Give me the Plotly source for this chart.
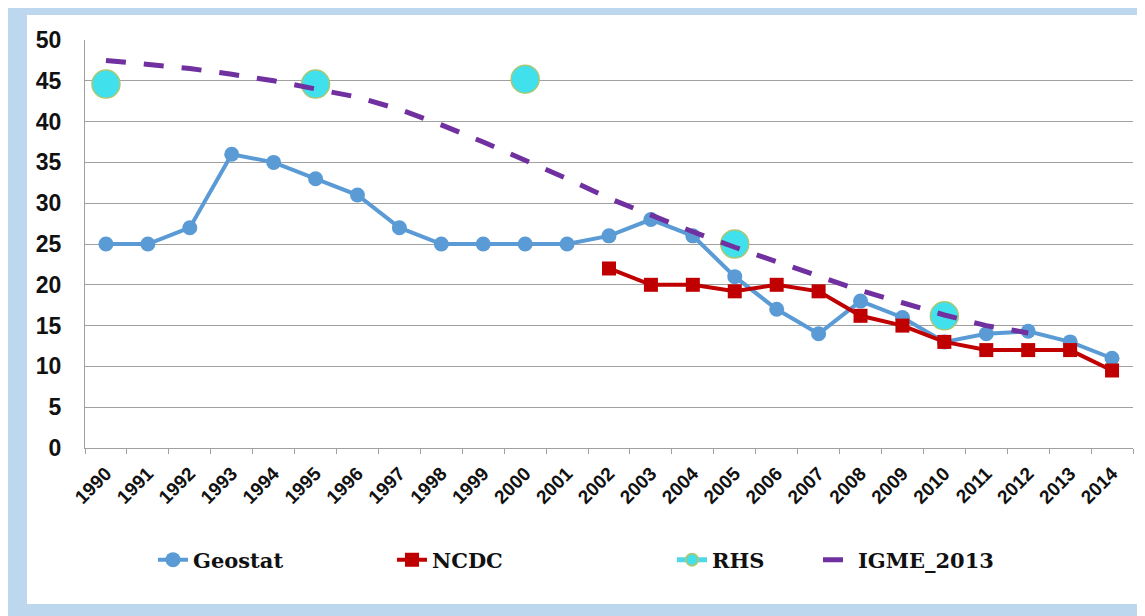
import plotly.graph_objects as go

years = [str(y) for y in range(1990, 2015)]
geostat = [25, 25, 27, 36, 35, 33, 31, 27, 25, 25, 25, 25, 26, 28, 26, 21, 17, 14, 18, 16, 13, 14, 14.3, 13, 11]
ncdc = [None] * 12 + [22, 20, 20, 19.2, 20, 19.2, 16.2, 15, 13, 12, 12, 12, 9.5]
rhs = [44.6, None, None, None, None, 44.6, None, None, None, None, 45.2, None, None, None, None,
       25, None, None, None, None, 16.2, None, None, None, None]
igme = [47.5, 47.0, 46.5, 45.8, 45.0, 44.0, 43.0, 41.5, 39.6, 37.5, 35.3, 33.0, 30.6, 28.5,
        26.5, 24.6, 22.8, 21.0, 19.3, 17.8, 16.3, 15.0, 14.1, None, None]
ytick_vals = [0, 5, 10, 15, 20, 25, 30, 35, 40, 45, 50]

# page body has an 8px margin; work in reference-image pixels and shift
OFF = 8
W, H = 1145 - OFF, 616 - OFF
L, R, T, B = 85 - OFF, 1133 - OFF, 40 - OFF, 448 - OFF


def px_x(p):
    return (p - OFF - L) / (R - L)


def px_y(p):
    return (B - (p - OFF)) / (B - T)


fig = go.Figure()
fig.add_trace(go.Scatter(x=years, y=geostat, name="Geostat", mode="lines+markers",
                         line=dict(color="#5b9bd5", width=4),
                         marker=dict(symbol="circle", size=15, color="#5b9bd5"),
                         legend="legend"))
fig.add_trace(go.Scatter(x=years, y=ncdc, name="NCDC", mode="lines+markers",
                         line=dict(color="#c00000", width=4),
                         marker=dict(symbol="square", size=14, color="#c00000"),
                         legend="legend2"))
fig.add_trace(go.Scatter(x=years, y=rhs, name="RHS", mode="lines+markers", connectgaps=False,
                         line=dict(color="#4fd8e6", width=4),
                         marker=dict(symbol="circle", size=28, color="#40e0ec",
                                     line=dict(color="#a8c878", width=1.5)),
                         legend="legend3"))
fig.add_trace(go.Scatter(x=years, y=igme, name="IGME_2013", mode="lines",
                         line=dict(color="#7030a0", width=5, dash="20px,18px"),
                         legend="legend4"))

legfont = dict(family="DejaVu Serif", size=21, color="#111111", weight="bold")
ly = px_y(560)
common = dict(orientation="h", yanchor="middle", y=ly, xanchor="left",
              font=legfont, bgcolor="rgba(0,0,0,0)", borderwidth=0)

shapes = [
    dict(type="rect", xref="paper", yref="paper", layer="below",
         x0=px_x(27), x1=px_x(1137), y0=px_y(604), y1=px_y(15),
         fillcolor="#ffffff", line=dict(width=0)),
]

fig.update_layout(
    width=W, height=H,
    margin=dict(l=L, r=W - R, t=T, b=H - B),
    paper_bgcolor="#bdd7ee", plot_bgcolor="rgba(0,0,0,0)",
    showlegend=True,
    legend=dict(common, x=px_x(153)),
    legend2=dict(common, x=px_x(392)),
    legend3=dict(common, x=px_x(672), itemsizing="constant"),
    legend4=dict(common, x=px_x(818)),
    shapes=shapes,
    xaxis=dict(type="category", tickson="boundaries", ticks="outside", ticklen=5,
               tickcolor="#a0a0a0", showline=True, linecolor="#a0a0a0", linewidth=1,
               showgrid=False, tickangle=-45, ticklabelstandoff=6,
               tickfont=dict(family="Liberation Sans", size=19, color="#111111", weight="bold"),
               range=[-0.5, 24.5]),
    yaxis=dict(range=[0, 50], tickvals=ytick_vals, showgrid=True, gridcolor="#a0a0a0",
               gridwidth=1, showline=True, linecolor="#a0a0a0", linewidth=1,
               zeroline=False, ticks="outside", ticklen=18, tickcolor="rgba(0,0,0,0)",
               tickfont=dict(family="Liberation Sans", size=23, color="#111111", weight="bold")),
)

fig.write_html("out.html")
